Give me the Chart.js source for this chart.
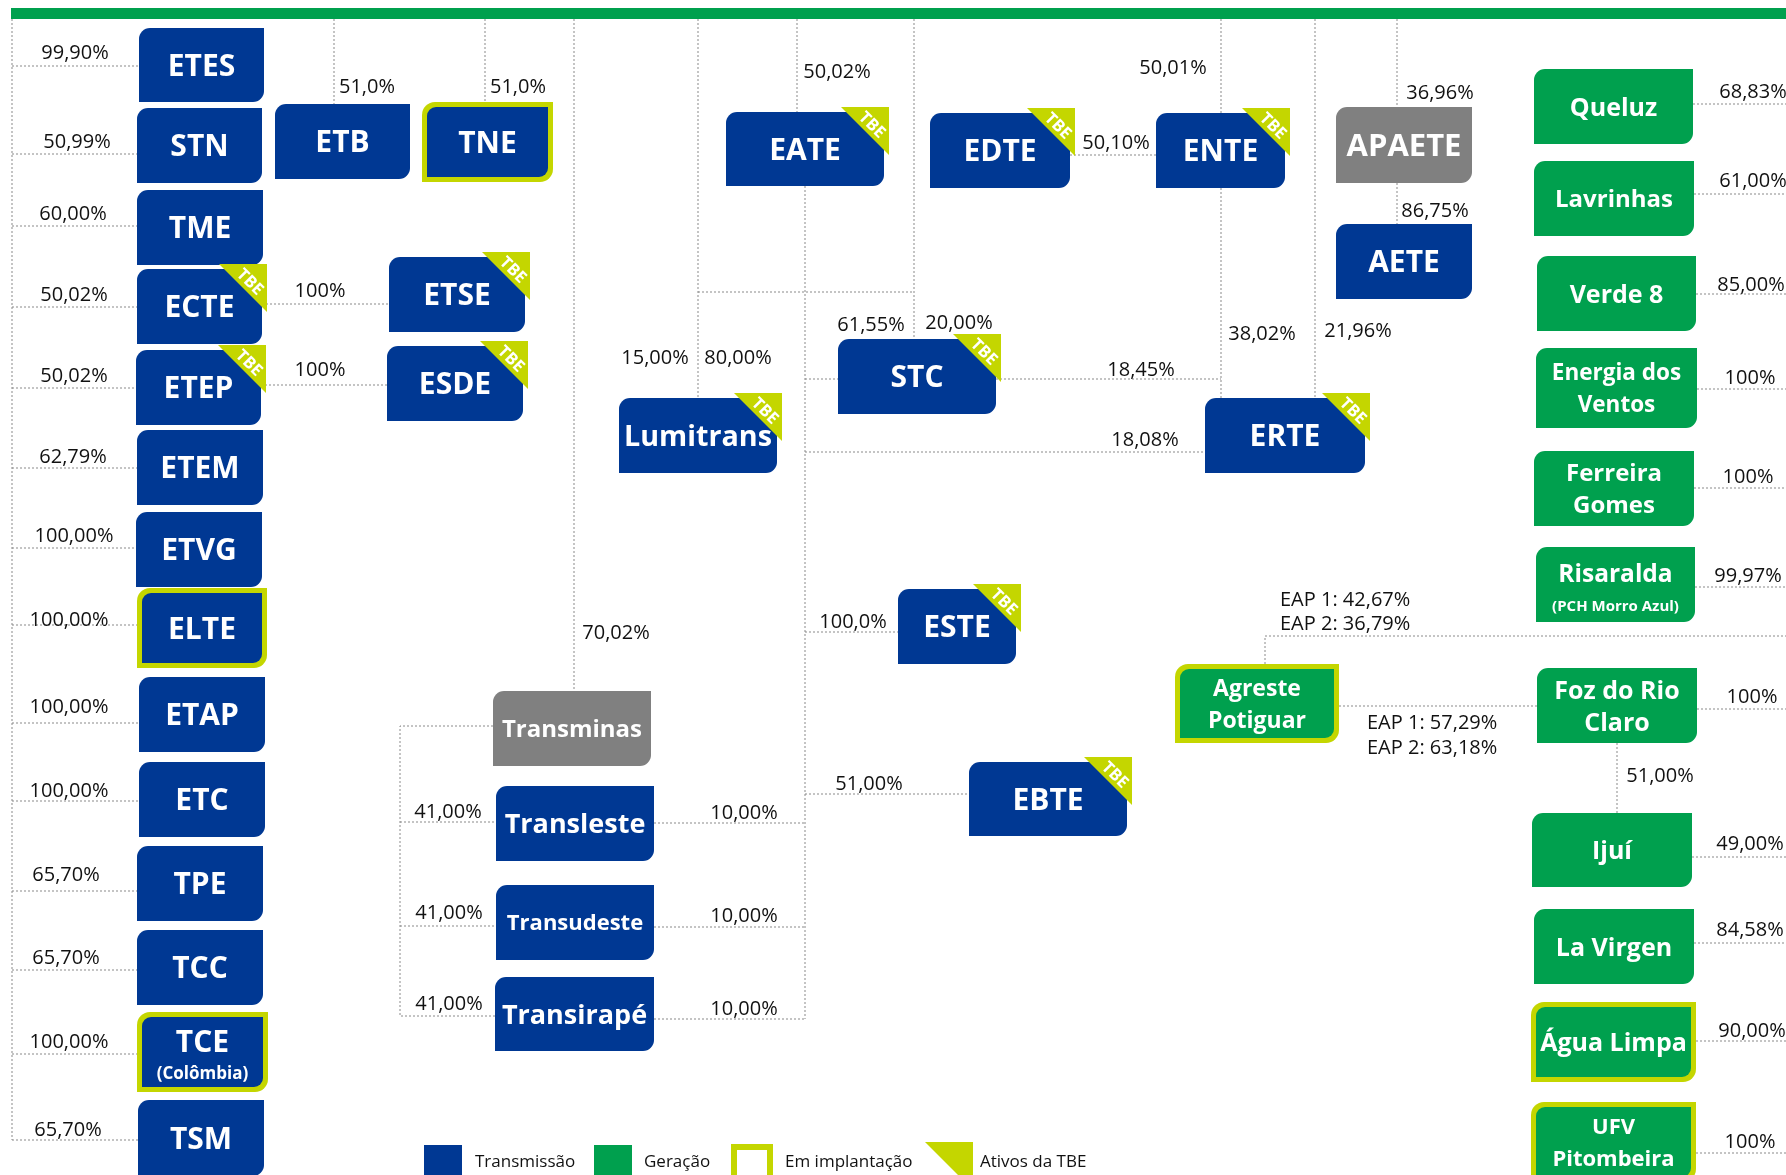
<!DOCTYPE html>
<html>
<head>
<meta charset="utf-8">
<script src="https://cdn.jsdelivr.net/npm/chart.js@4.4.1/dist/chart.umd.min.js"></script>
<style>
  html, body { margin: 0; padding: 0; background: #fff; overflow: hidden; }
  canvas { display: block; }
</style>
</head>
<body>
<canvas id="chart" width="1786" height="1175"></canvas>
<script>
// ---- data ----
const nodeNames = [
  'ETES', 'STN', 'TME', 'ECTE', 'ETEP', 'ETEM', 'ETVG', 'ELTE', 'ETAP', 'ETC', 'TPE', 'TCC', 'TCE', 'TSM',
  'ETB', 'TNE', 'ETSE', 'ESDE', 'EATE', 'EDTE', 'ENTE', 'APAETE', 'AETE',
  'Lumitrans', 'STC', 'ERTE', 'ESTE', 'EBTE',
  'Transminas', 'Transleste', 'Transudeste', 'Transirapé',
  'Queluz', 'Lavrinhas', 'Verde 8', 'Energia dos\nVentos', 'Ferreira\nGomes', 'Risaralda',
  'Agreste\nPotiguar', 'Foz do Rio\nClaro', 'Ijuí', 'La Virgen', 'Água Limpa', 'UFV\nPitombeira'
];
const nodeNotes = { 'TCE': '(Colômbia)', 'Risaralda': '(PCH Morro Azul)' };
// T = transmissão, G = geração, X = holding
const nodeKinds = [
  'T', 'T', 'T', 'T', 'T', 'T', 'T', 'T', 'T', 'T', 'T', 'T', 'T', 'T',
  'T', 'T', 'T', 'T', 'T', 'T', 'T', 'X', 'T',
  'T', 'T', 'T', 'T', 'T',
  'X', 'T', 'T', 'T',
  'G', 'G', 'G', 'G', 'G', 'G',
  'G', 'G', 'G', 'G', 'G', 'G'
];
// [left, top, right, bottom] in diagram units
const nodeBox = [
  [139, 28, 264, 102], [137, 108, 262, 183], [137, 190, 263, 265], [137, 269, 262, 344],
  [136, 350, 261, 425], [137, 430, 263, 505], [136, 512, 262, 587], [137, 588, 267, 668],
  [139, 677, 265, 752], [139, 762, 265, 837], [137, 846, 263, 921], [137, 930, 263, 1005],
  [137, 1012, 268, 1092], [138, 1100, 264, 1176],
  [275, 104, 410, 179], [422, 102, 553, 182], [389, 257, 525, 332], [387, 346, 523, 421],
  [726, 112, 884, 186], [930, 113, 1070, 188], [1156, 113, 1285, 188],
  [1336, 107, 1472, 183], [1336, 224, 1472, 299],
  [619, 398, 777, 473], [838, 339, 996, 414], [1205, 398, 1365, 473],
  [898, 589, 1016, 664], [969, 762, 1127, 836],
  [493, 691, 651, 766], [496, 786, 654, 861], [496, 885, 654, 960], [495, 977, 654, 1051],
  [1534, 69, 1693, 144], [1534, 161, 1694, 236], [1537, 256, 1696, 331], [1536, 348, 1697, 428],
  [1534, 451, 1694, 526], [1536, 547, 1695, 622],
  [1175, 664, 1339, 743], [1537, 668, 1697, 743], [1532, 813, 1692, 887],
  [1534, 909, 1694, 984], [1531, 1002, 1696, 1082], [1531, 1102, 1696, 1182]
];
const tbeAssets = ['ECTE', 'ETEP', 'ETSE', 'ESDE', 'EATE', 'EDTE', 'ENTE', 'Lumitrans', 'STC', 'ERTE', 'ESTE', 'EBTE'];
const implantAssets = ['ELTE', 'TCE', 'TNE', 'Agreste\nPotiguar', 'Água Limpa', 'UFV\nPitombeira'];

const stakeTexts = [
  '99,90%', '50,99%', '60,00%', '50,02%', '50,02%', '62,79%', '100,00%', '100,00%', '100,00%', '100,00%',
  '65,70%', '65,70%', '100,00%', '65,70%',
  '51,0%', '51,0%', '100%', '100%', '50,02%', '50,10%', '50,01%', '36,96%', '86,75%',
  '15,00%', '80,00%', '61,55%', '20,00%', '18,45%', '18,08%', '38,02%', '21,96%',
  '70,02%', '100,0%', '51,00%', '41,00%', '41,00%', '41,00%', '10,00%', '10,00%', '10,00%',
  '68,83%', '61,00%', '85,00%', '100%', '100%', '99,97%', '100%', '51,00%', '49,00%', '84,58%', '90,00%', '100%'
];
const stakeSpots = [
  [75, 52], [77, 141], [73, 213], [74, 294], [74, 375], [73, 456], [74, 535], [69, 619], [69, 706], [69, 790],
  [66, 874], [66, 957], [69, 1041], [68, 1129],
  [367, 86], [518, 86], [320, 290], [320, 369], [837, 71], [1116, 142], [1173, 67], [1440, 92], [1435, 210],
  [655, 357], [738, 357], [871, 324], [959, 322], [1141, 369], [1145, 439], [1262, 333], [1358, 330],
  [616, 632], [853, 621], [869, 783], [448, 811], [449, 912], [449, 1003], [744, 812], [744, 915], [744, 1008],
  [1753, 91], [1753, 180], [1751, 284], [1750, 377], [1748, 476], [1748, 575], [1752, 696], [1660, 775],
  [1750, 843], [1750, 929], [1752, 1030], [1750, 1141]
];
const eapTexts = ['EAP 1: 42,67%', 'EAP 2: 36,79%', 'EAP 1: 57,29%', 'EAP 2: 63,18%'];
const eapSpots = [[1280, 599], [1280, 623], [1367, 722], [1367, 747]];

const links = [
  [[12, 19], [12, 1140]],
  [[12, 66], [139, 66]], [[12, 154], [137, 154]], [[12, 226], [137, 226]], [[12, 307], [137, 307]],
  [[12, 388], [136, 388]], [[12, 468], [137, 468]], [[12, 548], [136, 548]], [[12, 625], [137, 625]],
  [[12, 723], [139, 723]], [[12, 801], [139, 801]], [[12, 891], [137, 891]], [[12, 970], [137, 970]],
  [[12, 1054], [137, 1054]], [[12, 1140], [138, 1140]],
  [[262, 304], [389, 304]], [[261, 385], [387, 385]],
  [[334, 19], [334, 104]], [[485, 19], [485, 102]],
  [[574, 19], [574, 691]],
  [[493, 726], [400, 726], [400, 1016], [495, 1016]],
  [[400, 822], [496, 822]], [[400, 926], [496, 926]],
  [[654, 823], [805, 823]], [[654, 927], [805, 927]], [[654, 1019], [805, 1019]],
  [[698, 19], [698, 398]], [[698, 292], [914, 292]], [[797, 19], [797, 112]], [[914, 19], [914, 339]],
  [[805, 186], [805, 1019]],
  [[805, 379], [838, 379]], [[996, 379], [1221, 379]], [[805, 452], [1205, 452]],
  [[805, 632], [898, 632]], [[805, 794], [969, 794]],
  [[1070, 155], [1156, 155]],
  [[1221, 19], [1221, 113]], [[1221, 188], [1221, 398]],
  [[1315, 19], [1315, 398]],
  [[1397, 19], [1397, 107]], [[1397, 183], [1397, 224]],
  [[1693, 104], [1786, 104]], [[1694, 194], [1786, 194]], [[1696, 294], [1786, 294]],
  [[1697, 389], [1786, 389]], [[1694, 488], [1786, 488]], [[1695, 587], [1786, 587]],
  [[1697, 709], [1786, 709]], [[1692, 857], [1786, 857]], [[1694, 943], [1786, 943]],
  [[1696, 1041], [1786, 1041]], [[1696, 1153], [1786, 1153]],
  [[1265, 664], [1265, 636], [1786, 636]],
  [[1339, 706], [1537, 706]],
  [[1617, 743], [1617, 813]]
];

const legendLabels = ['Transmissão', 'Geração', 'Em implantação', 'Ativos da TBE'];

// ---- style ----
const BLUE = '#003893';
const GREEN = '#00a04e';
const GRAY = '#808080';
const LIME = '#c4d600';
const kindColor = { T: BLUE, G: GREEN, X: GRAY };
const FONT = '"Open Sans", "Noto Sans", sans-serif';
const labelSize = {
  'Lumitrans': 29, 'Transleste': 27, 'Transudeste': 22, 'Transirapé': 27, 'Transminas': 24, 'APAETE': 31,
  'Queluz': 25, 'Lavrinhas': 24, 'Verde 8': 25, 'Energia dos\nVentos': 22.5, 'Ferreira\nGomes': 24,
  'Risaralda': 24.5, 'Agreste\nPotiguar': 23, 'Foz do Rio\nClaro': 25, 'Ijuí': 25, 'La Virgen': 25,
  'Água Limpa': 25, 'UFV\nPitombeira': 22
};

function leafPath(ctx, x, y, w, h, r) {
  ctx.beginPath();
  ctx.moveTo(x + r, y);
  ctx.lineTo(x + w, y);
  ctx.lineTo(x + w, y + h - r);
  ctx.arcTo(x + w, y + h, x + w - r, y + h, r);
  ctx.lineTo(x, y + h);
  ctx.lineTo(x, y + r);
  ctx.arcTo(x, y, x + r, y, r);
  ctx.closePath();
}

function drawTBE(ctx, r, t, s) {
  ctx.beginPath();
  ctx.moveTo(r - s, t);
  ctx.lineTo(r, t);
  ctx.lineTo(r, t + s);
  ctx.closePath();
  ctx.fillStyle = LIME;
  ctx.fill();
  ctx.save();
  ctx.translate(r - s * 0.34, t + s * 0.36);
  ctx.rotate(Math.PI / 4);
  ctx.fillStyle = '#fff';
  ctx.font = 'bold 16.5px ' + FONT;
  ctx.textAlign = 'center';
  ctx.textBaseline = 'alphabetic';
  ctx.fillText('TBE', 0, 6);
  ctx.restore();
}

const diagramPlugin = {
  id: 'diagram',
  afterDatasetsDraw(chart) {
    const ctx = chart.ctx;
    const xs = chart.scales.x, ys = chart.scales.y;
    const px = v => xs.getPixelForValue(v);
    const py = v => ys.getPixelForValue(v);
    ctx.save();

    // company boxes
    nodeNames.forEach((name, i) => {
      const [a, b, c, d] = nodeBox[i];
      const L = px(a), T = py(b), R = px(c), B = py(d);
      const w = R - L, h = B - T;
      const fill = kindColor[nodeKinds[i]];
      if (implantAssets.includes(name)) {
        leafPath(ctx, L, T, w, h, 13);
        ctx.fillStyle = LIME;
        ctx.fill();
        leafPath(ctx, L + 5, T + 5, w - 10, h - 10, 9);
        ctx.fillStyle = fill;
        ctx.fill();
      } else {
        leafPath(ctx, L, T, w, h, 11);
        ctx.fillStyle = fill;
        ctx.fill();
      }
      if (tbeAssets.includes(name)) drawTBE(ctx, R + 5, T - 5, 48);

      // label
      const cx = (L + R) / 2, cy = (T + B) / 2;
      const lines = name.split('\n');
      let size = labelSize[name] || 30;
      ctx.fillStyle = '#fff';
      ctx.textAlign = 'center';
      ctx.textBaseline = 'alphabetic';
      ctx.font = 'bold ' + size + 'px ' + FONT;
      const widest = Math.max(...lines.map(t => ctx.measureText(t).width));
      if (widest > w - 10) {
        size = size * (w - 10) / widest;
        ctx.font = 'bold ' + size + 'px ' + FONT;
      }
      const note = nodeNotes[name];
      if (note) {
        ctx.fillText(lines[0], cx, cy - 11 + size * 0.36);
        const ns = name === 'TCE' ? 17 : 15;
        ctx.font = 'bold ' + ns + 'px ' + FONT;
        ctx.fillText(note, cx, cy + 21 + ns * 0.36);
      } else {
        lines.forEach((t, k) => {
          const ly = cy + (k - (lines.length - 1) / 2) * 32;
          ctx.fillText(t, cx, ly + size * 0.36);
        });
      }
    });

    // stake labels
    ctx.fillStyle = '#111';
    ctx.font = '20px ' + FONT;
    ctx.textAlign = 'center';
    stakeTexts.forEach((t, i) => {
      ctx.fillText(t, px(stakeSpots[i][0]), py(stakeSpots[i][1]) + 7);
    });
    ctx.textAlign = 'left';
    eapTexts.forEach((t, i) => {
      ctx.fillText(t, px(eapSpots[i][0]), py(eapSpots[i][1]) + 7);
    });

    // legend
    const ly = py(1145);
    ctx.fillStyle = BLUE;
    ctx.fillRect(px(424), ly, 38, 40);
    ctx.fillStyle = GREEN;
    ctx.fillRect(px(594), ly, 38, 40);
    ctx.fillStyle = LIME;
    ctx.fillRect(px(731), ly - 1, 42, 41);
    ctx.fillStyle = '#fff';
    ctx.fillRect(px(737), ly + 5, 30, 40);
    ctx.beginPath();
    ctx.moveTo(px(925), py(1142));
    ctx.lineTo(px(973), py(1142));
    ctx.lineTo(px(973), py(1190));
    ctx.closePath();
    ctx.fillStyle = LIME;
    ctx.fill();
    ctx.fillStyle = '#111';
    ctx.font = '17px ' + FONT;
    ctx.textAlign = 'left';
    const lx = [475, 644, 785, 980];
    legendLabels.forEach((t, i) => ctx.fillText(t, px(lx[i]), py(1161) + 6));

    ctx.restore();
  }
};

function build() {
  const datasets = [{
    data: [{ x: 11, y: 13.5 }, { x: 1786, y: 13.5 }],
    showLine: true, borderColor: GREEN, borderWidth: 11, pointRadius: 0, borderCapStyle: 'butt'
  }];
  links.forEach(pts => {
    datasets.push({
      data: pts.map(p => ({ x: p[0], y: p[1] })),
      showLine: true,
      borderColor: '#8a8a8a',
      borderWidth: 1,
      borderDash: [2, 2],
      pointRadius: 0,
      tension: 0,
      fill: false
    });
  });

  new Chart(document.getElementById('chart').getContext('2d'), {
    type: 'scatter',
    data: { datasets: datasets },
    options: {
      responsive: false,
      maintainAspectRatio: false,
      animation: false,
      devicePixelRatio: 1,
      events: [],
      layout: { padding: 0 },
      scales: {
        x: { type: 'linear', min: 0, max: 1786, display: false },
        y: { type: 'linear', min: 0, max: 1175, reverse: true, display: false }
      },
      plugins: {
        legend: { display: false },
        tooltip: { enabled: false }
      }
    },
    plugins: [diagramPlugin]
  });
}

Promise.all([
  document.fonts.load('bold 30px "Open Sans"'),
  document.fonts.load('20px "Open Sans"')
]).catch(() => {}).then(build);
</script>
</body>
</html>
